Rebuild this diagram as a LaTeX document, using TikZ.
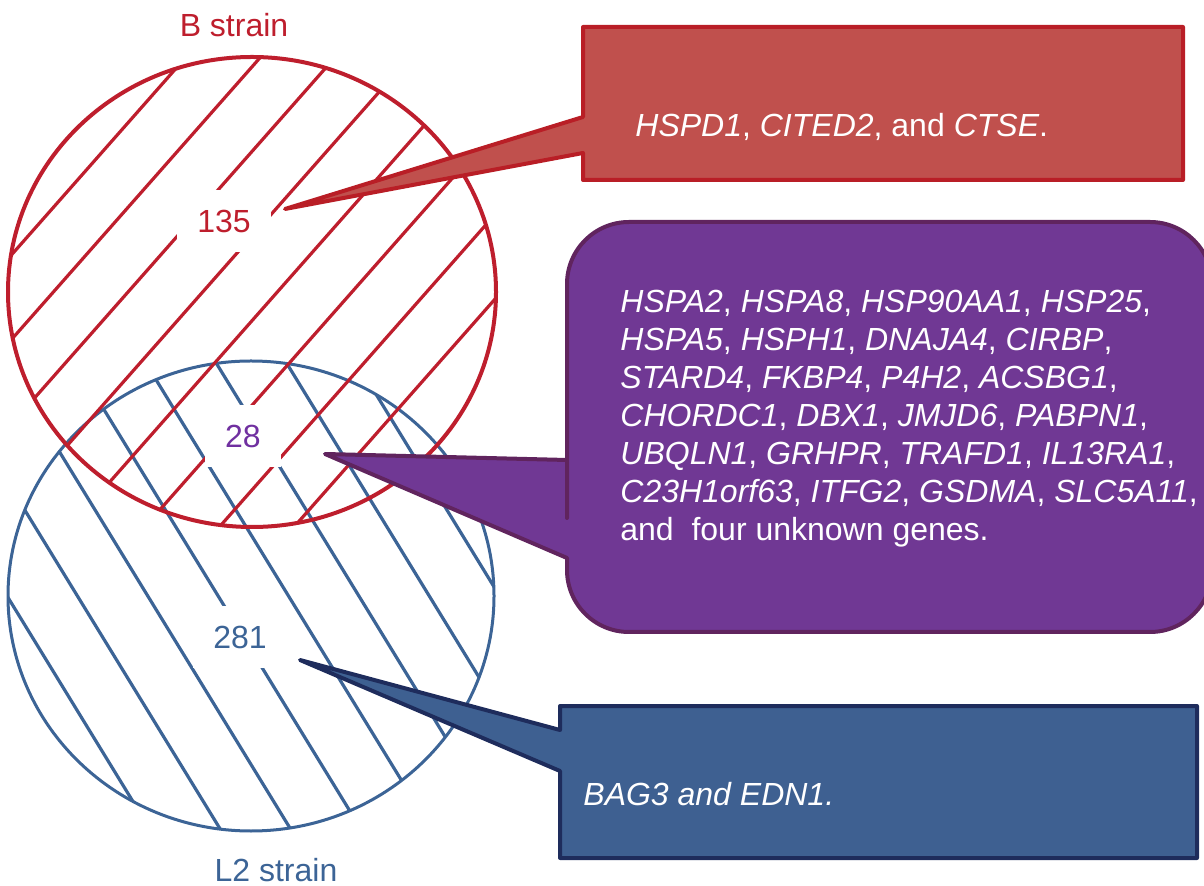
\documentclass[tikz,border=0pt]{standalone}
\usepackage{fontspec}
\setmainfont{Liberation Sans}
\usetikzlibrary{calc}
\definecolor{bred}{RGB}{190,30,45}
\definecolor{lblue}{RGB}{60,100,150}
\definecolor{bothpurple}{RGB}{112,48,160}
\definecolor{boxred}{RGB}{192,80,77}
\definecolor{boxredline}{RGB}{185,30,38}
\definecolor{boxpurple}{RGB}{112,56,148}
\definecolor{boxpurpleline}{RGB}{96,36,94}
\definecolor{boxblue}{RGB}{62,96,145}
\definecolor{boxblueline}{RGB}{30,44,92}
\newcommand{\gene}[1]{\textit{#1}}

\begin{document}
\begin{tikzpicture}[x=0.5pt,y=-0.5pt,
    every node/.style={font=\fontsize{16}{19}\selectfont},
    hatch/.style={line width=1.6pt},
    count/.style={fill=white,inner xsep=10pt,inner ysep=10pt},
    genebox/.style={line width=2pt,line join=round},
    genetext/.style={text=white,align=left,inner sep=0pt}]
  \useasboundingbox (0,0) rectangle (1204,886);

  % L2 strain
  \begin{scope}
    \clip (251,596) ellipse [x radius=243,y radius=235];
    \foreach \r in {-208,-148,...,212}
      \draw[hatch,lblue] ({251+0.853*\r-136},{596-0.522*\r-222}) -- ({251+0.853*\r+136},{596-0.522*\r+222});
  \end{scope}
  \draw[lblue,line width=1.5pt] (251,596) ellipse [x radius=243,y radius=235];

  % B strain
  \begin{scope}
    \clip (252,292) ellipse [x radius=244,y radius=235];
    \foreach \r in {-205,-149,...,187}
      \draw[hatch,bred] ({252+0.749*\r-172},{292+0.662*\r+195}) -- ({252+0.749*\r+172},{292+0.662*\r-195});
  \end{scope}
  \draw[bred,line width=2pt] (252,292) ellipse [x radius=244,y radius=235];

  \node[count,text=bred] (nB) at (224,221) {135};
  \node[count,text=bothpurple] (nBL) at (243,436) {28};
  \node[count,text=lblue] (nL) at (240,637) {281};
  \node[text=bred] (tB) at (234,25) {B strain};
  \node[text=lblue] (tL) at (276,870) {L2 strain};

  % callouts
  \coordinate (tipB) at (285,209);
  \coordinate (tipBL) at (325,454);
  \coordinate (tipL) at (300,660);

  \coordinate (gB-nw) at (583,27);
  \coordinate (gB-se) at (1183,180);
  \filldraw[genebox,fill=boxred,draw=boxredline] (gB-nw) -- (gB-nw -| gB-se) -- (gB-se) -- (gB-se -| gB-nw)
    -- ($(gB-nw)+(0,126)$) -- (tipB) -- ($(gB-nw)+(0,90)$) -- cycle;
  \node[genetext,anchor=base west] (txtB) at ($(gB-nw)+(52,110)$) {\gene{HSPD1}, \gene{CITED2}, and \gene{CTSE}.};

  \coordinate (gBL-nw) at (567,222);
  \coordinate (gBL-se) at (1212,632);
  \filldraw[genebox,fill=boxpurple,draw=boxpurpleline] ($(gBL-nw)+(0,336)$) -- ($(gBL-nw)+(0,340)$)
    [rounded corners=31pt] -- (gBL-se -| gBL-nw) -- (gBL-se) -- (gBL-nw -| gBL-se) -- (gBL-nw) -- ($(gBL-nw)+(0,234)$)
    [sharp corners] -- ($(gBL-nw)+(0,238)$) -- (tipBL) -- cycle;
  \node[genetext,anchor=north west] (txtBL) at ($(gBL-nw)+(53,68)$) {%
    \gene{HSPA2}, \gene{HSPA8}, \gene{HSP90AA1}, \gene{HSP25},\\
    \gene{HSPA5}, \gene{HSPH1}, \gene{DNAJA4}, \gene{CIRBP},\\
    \gene{STARD4}, \gene{FKBP4}, \gene{P4H2}, \gene{ACSBG1},\\
    \gene{CHORDC1}, \gene{DBX1}, \gene{JMJD6}, \gene{PABPN1},\\
    \gene{UBQLN1}, \gene{GRHPR}, \gene{TRAFD1}, \gene{IL13RA1},\\
    \gene{C23H1orf63}, \gene{ITFG2}, \gene{GSDMA}, \gene{SLC5A11},\\
    and~ four unknown genes.};

  \coordinate (gL-nw) at (560,706);
  \coordinate (gL-se) at (1197,858);
  \filldraw[genebox,fill=boxblue,draw=boxblueline] (gL-nw) -- (gL-nw -| gL-se) -- (gL-se) -- (gL-se -| gL-nw)
    -- ($(gL-nw)+(0,65)$) -- (tipL) -- ($(gL-nw)+(0,24)$) -- cycle;
  \node[genetext,anchor=base west] (txtL) at ($(gL-nw)+(23,99)$) {\gene{BAG3 and EDN1.}};
\end{tikzpicture}
\end{document}
